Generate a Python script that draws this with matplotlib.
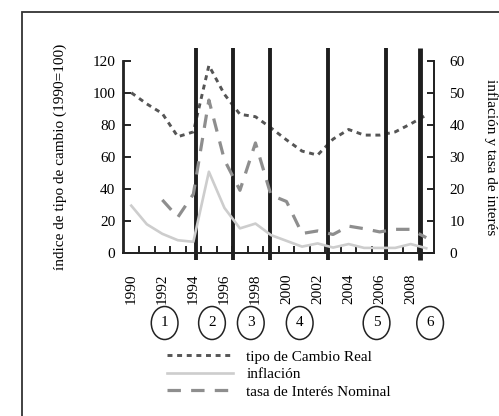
import numpy as np
import matplotlib.pyplot as plt
from matplotlib.lines import Line2D
from matplotlib.patches import Ellipse, Rectangle
from matplotlib.transforms import blended_transform_factory

plt.rcParams['font.family'] = ['Liberation Serif', 'DejaVu Serif']
plt.rcParams['font.size'] = 11

# ---- data ----
years = list(range(1990, 2010))
tipo_cambio = [100, 93, 87, 72.5, 75.5, 117, 99, 86.5, 85, 78, 70.5, 63.5, 61, 71, 77, 73.5, 73.5, 75.5, 80.5, 86]
inflacion = [14.7, 8.9, 5.9, 3.9, 3.4, 25.3, 14, 7.6, 9.1, 5.5, 3.7, 1.9, 2.9, 1.6, 2.7, 1.5, 1.5, 1.5, 2.7, 1.4]
interes = [np.nan, np.nan, 16.5, 11.1, 18.3, 47.7, 29, 19.5, 34.3, 18, 16, 6, 6.8, 5.7, 8.3, 7.5, 6.5, 7.3, 7.3, 4.7]
periodos = [1994.15, 1996.55, 1998.95, 2002.7, 2006.4, 2008.6]
circulos = ['1', '2', '3', '4', '5', '6']
circ_x = [1992.15, 1995.2, 1997.7, 2000.85, 2005.8, 2009.25]
year_labels = [str(y) for y in years[::2]]

W, H = 499, 416
fig = plt.figure(figsize=(W / 100, H / 100), dpi=100)
ax = fig.add_axes([123.5 / W, 1 - 252.7 / H, (434 - 123.5) / W, (252.7 - 60.7) / H])
ax2 = ax.twinx()

c_tipo = '#555555'
c_inf = '#cdcdcd'
c_int = '#8e8e8e'

l1, = ax.plot(years, tipo_cambio, color=c_tipo, lw=2.1, dashes=(1.7, 1.6), zorder=3)
l2, = ax2.plot(years, inflacion, color=c_inf, lw=1.9, zorder=2)
l3, = ax2.plot(years, interes, color=c_int, lw=2.3, dashes=(4.2, 3.2), zorder=3)

ax.set_xlim(1989.5, 2009.5)
ax.set_ylim(0, 120)
ax2.set_ylim(0, 60)
ax.set_yticks(range(0, 121, 20))
ax2.set_yticks(range(0, 61, 10))

# ticks between years, labels centred on years
ax.set_xticks(np.arange(1990.5, 2009, 1))
ax.set_xticklabels([])
ax.set_xticks(years[::2], year_labels, minor=True, rotation=90)
ax.tick_params(axis='x', which='major', direction='in', length=5, width=1.2)
ax.tick_params(axis='x', which='minor', length=0, pad=15, labelsize=11)
ax.tick_params(axis='y', direction='in', length=5, width=1.2, pad=6, labelsize=11)
ax2.tick_params(axis='y', direction='in', length=5, width=1.2, pad=11, labelsize=11)

for a in (ax, ax2):
    a.spines['top'].set_visible(False)
    for s in ('left', 'right', 'bottom'):
        a.spines[s].set_linewidth(1.3)
        a.spines[s].set_color('#222222')

# vertical period separators
for i, xv in enumerate(periodos):
    ax.vlines(xv, -4.4, 128, color='#1e1e1e', lw=2.8 if i < 5 else 3.5, clip_on=False, zorder=5)

# circled period numbers
tr = blended_transform_factory(ax.transData, fig.transFigure)
for lab, xc in zip(circulos, circ_x):
    fig.add_artist(Ellipse((xc, 1 - 323 / H), 1.72, 33 / H, transform=tr,
                           fill=False, lw=1.1, edgecolor='#222222'))
    fig.text(xc, 1 - 323 / H, lab, transform=tr, ha='center', va='center', fontsize=11)

ax.set_ylabel('índice de tipo de cambio (1990=100)', fontsize=11)
ax.yaxis.set_label_coords(67 / W, 1 - 157 / H, transform=fig.transFigure)
fig.text(491 / W, 1 - 157 / H, 'inflación y tasa de interés', rotation=-90,
         ha='center', va='center', fontsize=11)

fig.legend([l1, l2, l3], ['tipo de Cambio Real', 'inflación', 'tasa de Interés Nominal'],
           loc='upper left', bbox_to_anchor=(167 / W, 1 - 350 / H), frameon=False,
           handlelength=4.3, handletextpad=0.9, labelspacing=0.25, borderpad=0,
           borderaxespad=0, fontsize=11)

# outer frame
fig.add_artist(Rectangle((22 / W, -0.1), 1.2, 1.1 - 12 / H, fill=False, lw=1.3,
                         edgecolor='#333333', transform=fig.transFigure))

fig.savefig('out.png', dpi=100)
